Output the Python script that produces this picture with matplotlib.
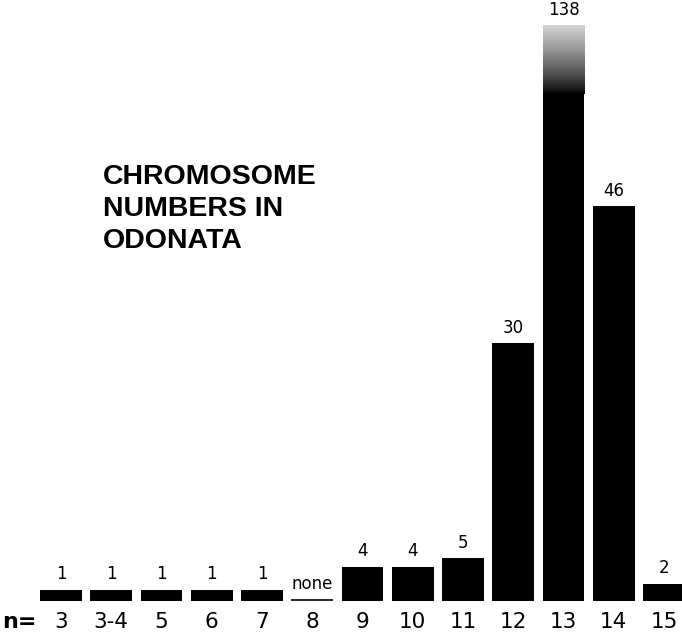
import numpy as np
import matplotlib.pyplot as plt

# haploid chromosome numbers and number of species counted
n_labels = ['3', '3-4', '5', '6', '7', '8', '9', '10', '11', '12', '13', '14', '15']
counts = [1, 1, 1, 1, 1, 0, 4, 4, 5, 30, 138, 46, 2]
bar_labels = ['1', '1', '1', '1', '1', 'none', '4', '4', '5', '30', '138', '46', '2']

cap = 67  # the tallest bar is cut off and fades out
min_h = 1.3  # thin bars drawn a little thicker

fig = plt.figure(figsize=(6.82, 6.37), dpi=100)
ax = fig.add_axes([0, 0.0565, 1, 0.9435])
ax.set_xlim(-1.214, 12.358)
ax.set_ylim(0, 70)
ax.axis('off')

x = np.arange(len(counts))
w = 0.83
heights = [0 if c == 0 else min(max(c, min_h), cap) for c in counts]
ax.bar(x, heights, width=w, color='black', zorder=2)

# fade the top of the cut bar into white
for i, c in enumerate(counts):
    if c > cap:
        grad = np.linspace(0, 1, 200).reshape(-1, 1) ** 0.8
        ax.imshow(grad, cmap='gray', extent=(i - w / 2, i + w / 2, cap - 8, cap),
                  aspect='auto', origin='lower', vmin=0, vmax=1.2, zorder=3,
                  interpolation='bilinear')
ax.set_xlim(-1.214, 12.358)
ax.set_ylim(0, 70)

# labels over bars
for i, (c, h, lab) in enumerate(zip(counts, heights, bar_labels)):
    if c == 0:
        ax.hlines(0.15, i - w / 2, i + w / 2, color='black', lw=1.2)
        ax.text(i, 0.9, lab, ha='center', va='bottom', fontsize=12,
                family='DejaVu Sans')
    else:
        ax.text(i, h + 0.75, lab, ha='center', va='bottom', fontsize=12,
                family='DejaVu Sans')

# n values under bars
for i, lab in enumerate(n_labels):
    ax.text(i, -2.4, lab, ha='center', va='center', fontsize=15.5,
            family='DejaVu Sans', clip_on=False)
ax.text(-1.17, -2.4, 'n=', ha='left', va='center', fontsize=16,
        family='DejaVu Sans', fontweight='bold', clip_on=False)

fig.text(0.151, 0.742, 'CHROMOSOME\nNUMBERS IN\nODONATA', ha='left', va='top',
         fontsize=20.5, fontweight='bold', family='Liberation Sans',
         linespacing=1.3)

fig.savefig('out.png', dpi=100)
